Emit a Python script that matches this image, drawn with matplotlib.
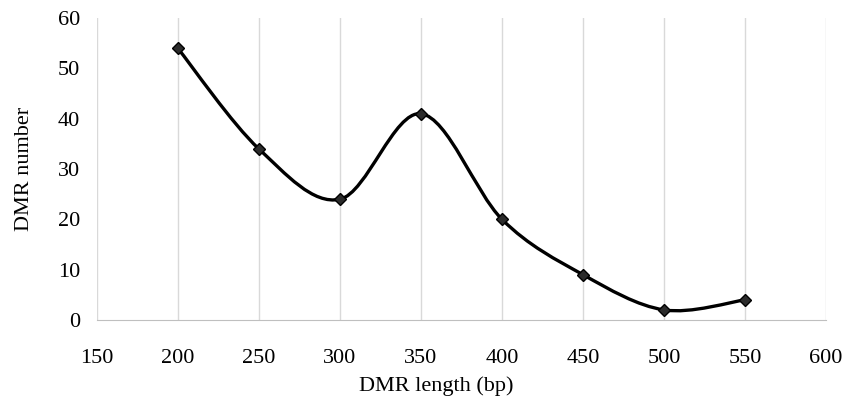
import matplotlib
matplotlib.use("Agg")
import matplotlib.pyplot as plt
from matplotlib.path import Path
from matplotlib.patches import PathPatch
import numpy as np

plt.rcParams['font.family'] = ['Liberation Serif', 'DejaVu Serif']

# DMR length (bp) vs number of DMRs
lengths = [200, 250, 300, 350, 400, 450, 500, 550]
counts = [54, 34, 24, 41, 20, 9, 2, 4]
xticks = [150, 200, 250, 300, 350, 400, 450, 500, 550, 600]
yticks = [0, 10, 20, 30, 40, 50, 60]


def smooth_path(xs, ys):
    # Catmull-Rom style bezier, like the "smoothed line" option in Excel
    p = np.column_stack([xs, ys]).astype(float)
    ext = np.vstack([p[0], p, p[-1]])
    verts = [p[0]]
    codes = [Path.MOVETO]
    for i in range(len(p) - 1):
        p0, p1, p2, p3 = ext[i], ext[i + 1], ext[i + 2], ext[i + 3]
        c1 = p1 + (p2 - p0) / 6.0
        c2 = p2 - (p3 - p1) / 6.0
        verts += [c1, c2, p2]
        codes += [Path.CURVE4] * 3
    return Path(verts, codes)


fig = plt.figure(figsize=(8.57, 4.03), dpi=100)
ax = fig.add_axes([0.113, 0.206, 0.851, 0.749])

ax.add_patch(PathPatch(smooth_path(lengths, counts), fill=False,
                       edgecolor='black', lw=2.4, zorder=3))
ax.plot(lengths, counts, linestyle='none', marker='D', markersize=6.5,
        color='#2b2b2b', markeredgecolor='black', zorder=4)

ax.set_xlim(150, 600)
ax.set_ylim(0, 60)
ax.set_xticks(xticks)
ax.set_yticks(yticks)
ax.grid(axis='x', color='#d9d9d9', lw=1)
ax.set_axisbelow(True)
for s in ['top', 'right', 'left']:
    ax.spines[s].set_visible(False)
ax.spines['bottom'].set_color('#bfbfbf')
ax.tick_params(length=0, labelsize=16)
ax.tick_params(axis='x', pad=21)
ax.tick_params(axis='y', pad=12)

ax.set_xlabel('DMR length (bp)', fontsize=16, labelpad=6)
ax.xaxis.label.set_x(0.466)
ax.set_ylabel('DMR number', fontsize=16, labelpad=17)

fig.savefig('out.png', dpi=100)
